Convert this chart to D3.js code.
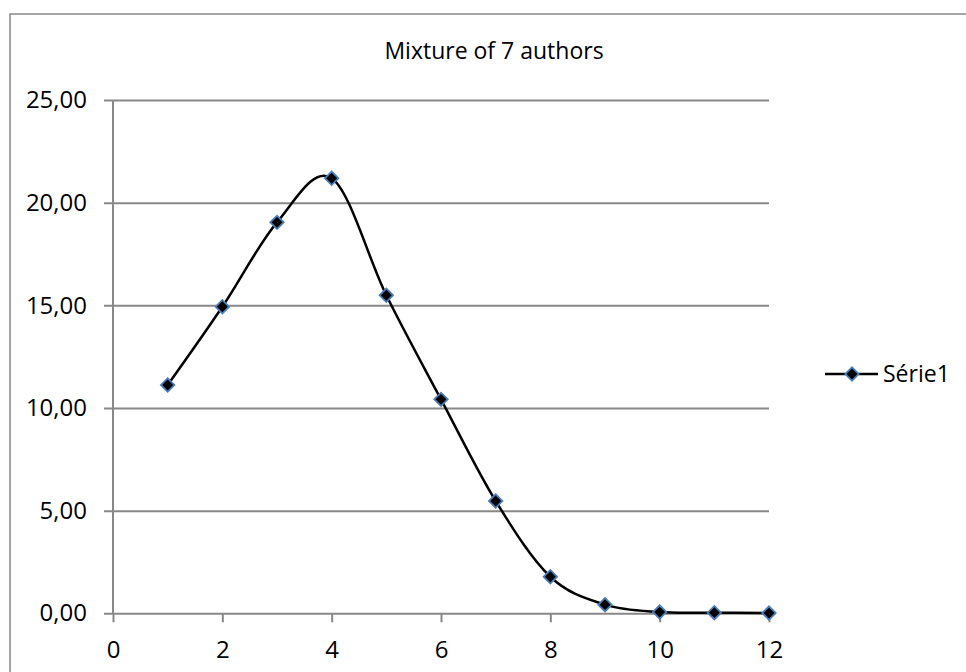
<!DOCTYPE html>
<html>
<head>
<meta charset="utf-8">
<script src="https://cdn.jsdelivr.net/npm/d3@7"></script>
<style>
  html, body { margin: 0; padding: 0; background: #fff; }
  svg { display: block; }
  text { font-family: "Open Sans", "Noto Sans", sans-serif; fill: #000; }
</style>
</head>
<body>
<div id="chart"></div>
<script>
// Share of text attributed to each author count (percent)
const categories = [1, 2, 3, 4, 5, 6, 7, 8, 9, 10, 11, 12];
const serie1 = [11.12, 14.93, 19.04, 21.19, 15.49, 10.42, 5.47, 1.78, 0.42, 0.06, 0.03, 0.01];
const xTicks = [0, 2, 4, 6, 8, 10, 12];
const yTicks = [0, 5, 10, 15, 20, 25];
const title = "Mixture of 7 authors";
const seriesName = "Série1";

const W = 966, H = 672;
const plot = { left: 113, right: 769, top: 100, bottom: 613.3 };
const gridColor = "#888888";
const labelSize = 24;

const svg = d3.select("#chart").append("svg")
  .attr("width", W).attr("height", H);

// chart frame (continues past the right and bottom edges)
svg.append("rect")
  .attr("x", 10).attr("y", 14)
  .attr("width", W + 20).attr("height", H + 20)
  .attr("fill", "#fff")
  .attr("stroke", gridColor).attr("stroke-width", 1.5);

const x = d3.scaleLinear().domain([0, 12]).range([plot.left, plot.right]);
const y = d3.scaleLinear().domain([0, 25]).range([plot.bottom, plot.top]);

const fmt = v => d3.format(".2f")(v).replace(".", ",");

// horizontal gridlines + y tick labels
const yAxis = d3.axisLeft(y)
  .tickValues(yTicks)
  .tickSize(-(plot.right - plot.left))
  .tickPadding(26)
  .tickFormat(fmt);
const gy = svg.append("g")
  .attr("transform", `translate(${plot.left},0)`)
  .call(yAxis);
gy.select(".domain").remove();
gy.selectAll(".tick line")
  .attr("x1", -9)
  .attr("stroke", gridColor).attr("stroke-width", 2);
gy.selectAll(".tick text")
  .attr("font-size", labelSize)
  .attr("font-family", "'Open Sans', sans-serif")
  .attr("fill", "#000");

// vertical axis line
svg.append("line")
  .attr("x1", plot.left).attr("x2", plot.left)
  .attr("y1", y(25)).attr("y2", y(0))
  .attr("stroke", gridColor).attr("stroke-width", 2);

// x axis
const xAxis = d3.axisBottom(x)
  .tickValues(xTicks)
  .tickSize(9)
  .tickPadding(19)
  .tickFormat(d3.format("d"));
const gx = svg.append("g")
  .attr("transform", `translate(0,${plot.bottom})`)
  .call(xAxis);
gx.select(".domain").remove();
gx.selectAll(".tick line")
  .attr("stroke", gridColor).attr("stroke-width", 2);
gx.selectAll(".tick text")
  .attr("font-size", labelSize)
  .attr("font-family", "'Open Sans', sans-serif")
  .attr("fill", "#000");

// title
svg.append("text")
  .attr("x", 494).attr("y", 59)
  .attr("text-anchor", "middle")
  .attr("font-size", 23)
  .text(title);

// smoothed series line
const pts = categories.map((c, i) => [c, serie1[i]]);
const line = d3.line()
  .x(d => x(d[0])).y(d => y(d[1]))
  .curve(d3.curveCardinal.tension(0));
svg.append("path")
  .datum(pts)
  .attr("d", line)
  .attr("fill", "none")
  .attr("stroke", "#000")
  .attr("stroke-width", 2.5);

// diamond markers
const diamond = d3.symbol().type(d3.symbolSquare).size(90);
svg.append("g").selectAll("path")
  .data(pts)
  .join("path")
  .attr("d", diamond)
  .attr("transform", d => `translate(${x(d[0])},${y(d[1])}) rotate(45)`)
  .attr("fill", "#000")
  .attr("stroke", "#4a7ebb")
  .attr("stroke-width", 1.8);

// legend
const lg = svg.append("g").attr("transform", "translate(825,374)");
lg.append("line")
  .attr("x1", 0).attr("x2", 53)
  .attr("stroke", "#000").attr("stroke-width", 2.5);
lg.append("path")
  .attr("d", diamond)
  .attr("transform", "translate(27,0) rotate(45)")
  .attr("fill", "#000")
  .attr("stroke", "#4a7ebb")
  .attr("stroke-width", 1.8);
lg.append("text")
  .attr("x", 58).attr("y", 0)
  .attr("dy", "0.35em")
  .attr("font-size", 23)
  .text(seriesName);
</script>
</body>
</html>
